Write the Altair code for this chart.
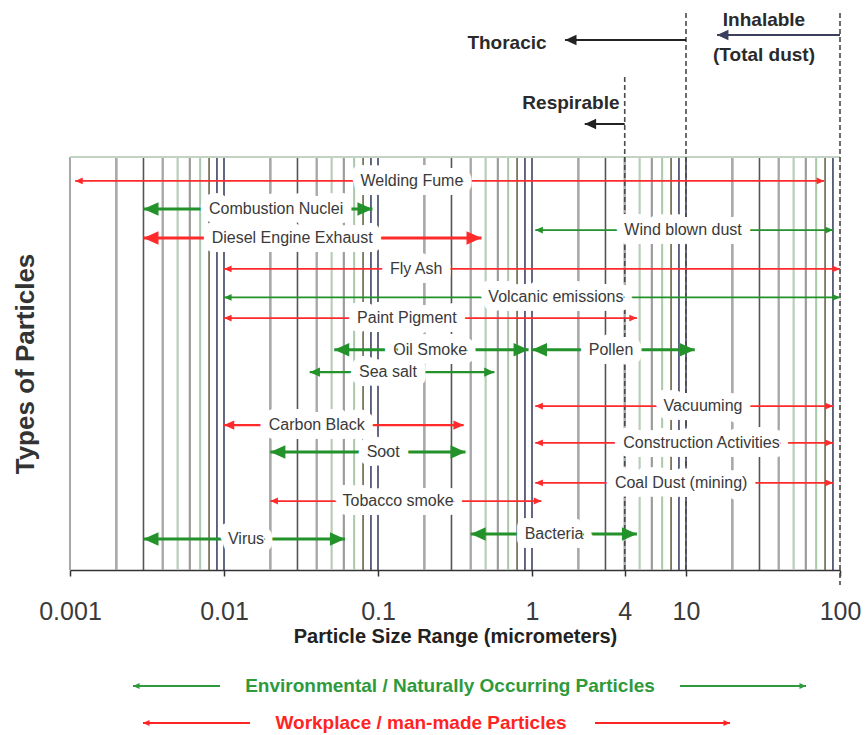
import math
import altair as alt
import pandas as pd

# ---- particle size ranges (micrometers) ----
particles = ["Welding Fume", "Combustion Nuclei", "Diesel Engine Exhaust", "Wind blown dust",
             "Fly Ash", "Volcanic emissions", "Paint Pigment", "Oil Smoke", "Pollen", "Sea salt",
             "Vacuuming", "Carbon Black", "Construction Activities", "Soot", "Coal Dust (mining)",
             "Tobacco smoke", "Virus", "Bacteria"]
size_lo = [0.00108, 0.003, 0.003, 1.05, 0.01, 0.01, 0.01, 0.052, 1.0, 0.036,
           1.05, 0.01, 1.05, 0.02, 1.05, 0.02, 0.003, 0.4]
size_hi = [79, 0.092, 0.47, 90, 100, 100, 4.8, 0.95, 11.4, 0.57,
           90, 0.36, 90, 0.37, 90, 1.15, 0.061, 4.8]
origin = ["Workplace", "Environmental", "Workplace", "Environmental", "Workplace",
          "Environmental", "Workplace", "Environmental", "Environmental", "Environmental",
          "Workplace", "Workplace", "Workplace", "Environmental", "Workplace",
          "Workplace", "Environmental", "Environmental"]
# vertical lane of each range (0 = top of plot, 100 = bottom)
lane = [5.8, 12.6, 19.6, 17.7, 27.1, 34.0, 39.0, 46.7, 46.7, 52.1,
        60.3, 64.9, 69.2, 71.4, 78.9, 83.3, 92.5, 91.3]
# where each name sits along the size axis
label_at = [0.166, 0.0218, 0.0277, 9.57, 0.177, 1.43, 0.154, 0.218, 3.26, 0.116,
            12.9, 0.040, 12.6, 0.108, 9.3, 0.135, 0.0139, 1.39]

# ---- size fractions ----
cutoff_sizes = [4, 10, 100]
cutoff_names = ["Respirable", "Thoracic", "Inhalable"]

# ---- axis ----
tick_values = [0.001, 0.01, 0.1, 1, 4, 10, 100]
grid_sizes = [0.001, 0.002, 0.003, 0.004, 0.005, 0.006, 0.007, 0.008, 0.009,
              0.01, 0.02, 0.03, 0.04, 0.05, 0.06, 0.07, 0.08, 0.09,
              0.1, 0.2, 0.3, 0.4, 0.5, 0.6, 0.7, 0.8, 0.9,
              1, 2, 3, 4, 5, 6, 7, 8, 9,
              10, 20, 30, 40, 50, 60, 70, 80, 90]

legend_names = ["Environmental / Naturally Occurring Particles", "Workplace / man-made Particles"]

# ---- styling ----
GREEN = "#23922a"
RED = "#ff2a2a"
ORIGIN_COLOR = {"Environmental": GREEN, "Workplace": RED}
THICK = {"Combustion Nuclei", "Diesel Engine Exhaust", "Oil Smoke", "Pollen", "Soot", "Virus", "Bacteria"}
MEDIUM = {"Sea salt", "Carbon Black"}
GRID_STYLE = {1: ("#3d4266", 1.6), 2: ("#a8a8a8", 2.6), 3: ("#555555", 1.6), 4: ("#a8a8a8", 2.4),
              5: ("#b9cdb9", 2.2), 6: ("#9c9c9c", 2.2), 7: ("#a9c9a9", 2.0), 8: ("#66664a", 1.6),
              9: ("#3d4266", 1.6)}
EDGE_STYLE = ("#a8a8a8", 2.0)
RIGHT = "M0,0 L-1,-0.45 L-1,0.45 Z"
LEFT = "M0,0 L1,-0.45 L1,0.45 Z"
FONT = "Liberation Sans"
LABEL_SIZE = 16
W, H = 770, 413

x_scale = alt.Scale(type="log", domain=[0.001, 100], nice=False)
y_scale = alt.Scale(domain=[0, 100], reverse=True)
x_axis = alt.Axis(values=tick_values, labelExpr="'' + datum.value",
                  title="Particle Size Range (micrometers)", grid=False)
y_axis = alt.Axis(title="Types of Particles", labels=False, ticks=False,
                  domain=False, grid=False)


def xs(field):
    return alt.X(f"{field}:Q", scale=x_scale, axis=x_axis)


def ys(field):
    return alt.Y(f"{field}:Q", scale=y_scale, axis=y_axis)


# ---- tables ----
ranges = pd.DataFrame({"name": particles, "lo": size_lo, "hi": size_hi,
                       "origin": origin, "lane": lane, "label_at": label_at})
ranges["col"] = ranges["origin"].map(ORIGIN_COLOR)
ranges["w"] = [3.0 if n in THICK else 2.2 if n in MEDIUM else 1.7 for n in particles]
ranges["head"] = [900 if n in THICK else 420 if n in MEDIUM else 230 for n in particles]

heads = pd.concat([
    ranges.assign(at=ranges["lo"], shape=LEFT),
    ranges.assign(at=ranges["hi"], shape=RIGHT),
])

grid = pd.DataFrame({"size": grid_sizes})
styles = [EDGE_STYLE if i == 0 else GRID_STYLE[int(round(v / 10 ** math.floor(math.log10(v) + 1e-9)))]
          for i, v in enumerate(grid_sizes)]
grid["col"] = [s[0] for s in styles]
grid["w"] = [s[1] for s in styles]

# ---- background grid with the size axis ----
grid_layer = alt.Chart(grid).mark_rule().encode(
    x=xs("size"),
    color=alt.Color("col:N", scale=None),
    strokeWidth=alt.StrokeWidth("w:Q", scale=None),
)

frame_top = alt.Chart(pd.DataFrame({"k": [0]})).mark_rule(color="#c3d3c3", strokeWidth=2).encode(
    x=alt.value(0), x2=alt.value(W), y=alt.value(0))

# dashed cut-off lines for the size fractions
cut_top = {4: -80, 10: -144, 100: -144}
cut_bottom = {4: H, 10: H, 100: H + 15}
cut_layers = []
for s in cutoff_sizes:
    cut_layers.append(
        alt.Chart(pd.DataFrame({"size": [s]})).mark_rule(
            color="#4a4a4a", strokeWidth=1.6, strokeDash=[5, 3]).encode(
            x=xs("size"), y=alt.value(cut_top[s]), y2=alt.value(cut_bottom[s])))

# ---- particle ranges ----
shafts = alt.Chart(ranges).mark_rule().encode(
    x=xs("lo"), x2="hi", y=ys("lane"),
    color=alt.Color("col:N", scale=None),
    strokeWidth=alt.StrokeWidth("w:Q", scale=None),
)

halo = alt.Chart(ranges).mark_text(
    font=FONT, fontSize=LABEL_SIZE, stroke="white", strokeWidth=18, strokeJoin="round",
    fill="white", baseline="middle").encode(
    x=xs("label_at"), y=ys("lane"), text="name:N")

tips = alt.Chart(heads).mark_point(filled=True, opacity=1, strokeWidth=0).encode(
    x=xs("at"), y=ys("lane"),
    shape=alt.Shape("shape:N", scale=None),
    size=alt.Size("head:Q", scale=None),
    color=alt.Color("col:N", scale=None),
)

names = alt.Chart(ranges).mark_text(
    font=FONT, fontSize=LABEL_SIZE, color="#3a3a3a", baseline="middle").encode(
    x=xs("label_at"), y=ys("lane"), text="name:N")

# ---- size fraction annotations above the plot ----
frac = pd.DataFrame({"name": cutoff_names, "size": cutoff_sizes,
                     "tip": [2.2, 1.64, 15.9], "text_at": [1.79, 0.688, 32.1]})
frac_col = {"Respirable": "#222222", "Thoracic": "#222222", "Inhalable": "#3b3f5c"}
frac_y = {"Respirable": -33, "Thoracic": -117, "Inhalable": -122}
text_y = {"Respirable": -54, "Thoracic": -114, "Inhalable": -137}
frac_layers = []
for _, r in frac.iterrows():
    d = pd.DataFrame([r])
    frac_layers.append(alt.Chart(d).mark_rule(color=frac_col[r["name"]], strokeWidth=2).encode(
        x=xs("size"), x2="tip", y=alt.value(frac_y[r["name"]])))
    frac_layers.append(alt.Chart(d).mark_point(
        filled=True, opacity=1, strokeWidth=0, shape=LEFT, size=520,
        color=frac_col[r["name"]]).encode(x=xs("tip"), y=alt.value(frac_y[r["name"]])))
    frac_layers.append(alt.Chart(d).mark_text(
        font=FONT, fontSize=19, fontWeight="bold", color="#2a2a2a", baseline="middle").encode(
        x=xs("text_at"), y=alt.value(text_y[r["name"]]), text="name:N"))
frac_layers.append(alt.Chart(frac[frac["name"] == "Inhalable"]).mark_text(
    font=FONT, fontSize=19, fontWeight="bold", color="#2a2a2a", baseline="middle",
    text="(Total dust)").encode(x=xs("text_at"), y=alt.value(-102)))


# ---- colour key below the axis ----
def key_row(label, color, y, left, center, right):
    d = pd.DataFrame({"t": [label]})
    base = alt.Chart(d)
    return [
        base.mark_rule(color=color, strokeWidth=2).encode(
            x=alt.value(left[0]), x2=alt.value(left[1]), y=alt.value(y)),
        base.mark_rule(color=color, strokeWidth=2).encode(
            x=alt.value(right[0]), x2=alt.value(right[1]), y=alt.value(y)),
        base.mark_point(filled=True, opacity=1, strokeWidth=0, shape=LEFT, size=170, color=color).encode(
            x=alt.value(left[0]), y=alt.value(y)),
        base.mark_point(filled=True, opacity=1, strokeWidth=0, shape=RIGHT, size=170, color=color).encode(
            x=alt.value(right[1]), y=alt.value(y)),
        base.mark_text(font=FONT, fontSize=19, fontWeight="bold", color=color, baseline="middle").encode(
            x=alt.value(center), y=alt.value(y), text="t:N"),
    ]


key_layers = (key_row(legend_names[0], "#2e9a3c", 529, (63, 150), 380, (610, 736))
              + key_row(legend_names[1], "#ff2424", 566, (73, 180), 351, (525, 660)))

chart = alt.layer(
    grid_layer, frame_top, *cut_layers, shafts, halo, tips, names, *frac_layers, *key_layers
).properties(
    width=W, height=H,
    padding={"left": 70, "top": 157, "right": 26, "bottom": 165},
    autosize=alt.AutoSizeParams(type="none"),
).configure_view(stroke=None).configure(background="white").configure_axisX(
    labelFont=FONT, labelFontSize=25, labelColor="#3a3a3a", labelPadding=23, labelFlush=False,
    labelOverlap=False,
    tickColor="#333333", tickSize=6, tickWidth=1.5, domainColor="#333333", domainWidth=1.6,
    titleFont=FONT, titleFontSize=20, titleFontWeight="bold", titleColor="#222222", titlePadding=2,
).configure_axisY(
    titleFont=FONT, titleFontSize=26, titleFontWeight="bold", titleColor="#333333", titlePadding=32,
)

chart.save("out.html", embed_options={"renderer": "svg", "actions": False})
